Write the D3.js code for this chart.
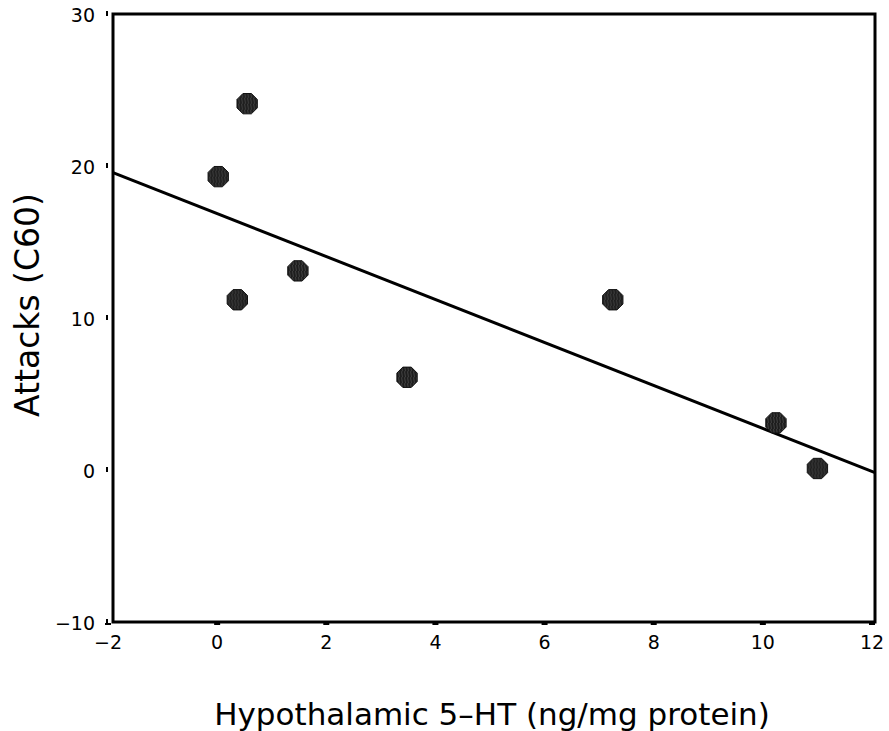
<!DOCTYPE html>
<meta charset="utf-8">
<style>
	body { margin: 0; background: #fff; }
	.tick-label { font: 19px "DejaVu Sans", sans-serif; fill: #000; }
	.axis-title { font: 31px "DejaVu Sans", sans-serif; fill: #000; }
	.frame { fill: none; stroke: #000; stroke-width: 3; }
	.fit { stroke: #000; stroke-width: 3; fill: none; }
</style>
<body>
<script src="https://cdn.jsdelivr.net/npm/d3@7/dist/d3.min.js"></script>
<script>
var width = 889,
    height = 731;

// data
var serotonin = [0.02, 0.55, 0.37, 1.48, 3.48, 7.25, 10.24, 11.0];
var attacks   = [19.3, 24.1, 11.2, 13.1, 6.1, 11.2, 3.1, 0.1];
var fitX = [-2, 12];
var fitY = [19.7, -0.1];
var xTicks = [-2, 0, 2, 4, 6, 8, 10, 12];
var yTicks = [-10, 0, 10, 20, 30];

var x = d3.scaleLinear().domain([-2, 12]).range([108, 872]);
var y = d3.scaleLinear().domain([-10, 30]).range([622, 14]);

var left = x(-2) + 5,
    right = x(12) + 3;

var svg = d3.select("body").append("svg")
    .attr("width", width)
    .attr("height", height);

// hatch pattern for the markers
var pat = svg.append("defs").append("pattern")
    .attr("id", "hatch")
    .attr("patternUnits", "userSpaceOnUse")
    .attr("width", 3).attr("height", 6);
pat.append("rect").attr("width", 3).attr("height", 6).attr("fill", "#1c1c1c");
pat.append("path").attr("d", "M0.5,0 L1.5,6").attr("stroke", "#555").attr("stroke-width", 0.7);

svg.append("rect")
    .attr("class", "frame")
    .attr("x", left).attr("y", y(30))
    .attr("width", right - left)
    .attr("height", y(-10) - y(30));

// tiny tick marks, SPSS style
svg.append("g").selectAll("rect").data(yTicks)
  .enter().append("rect")
    .attr("x", x(-2) - 2).attr("y", function(d) { return y(d) - 3; })
    .attr("width", 2).attr("height", 5).attr("fill", "#000");

svg.append("g").selectAll("rect").data(xTicks)
  .enter().append("rect")
    .attr("x", function(d) { return x(d) - 3; }).attr("y", y(-10) + 1)
    .attr("width", 6).attr("height", 2).attr("fill", "#000");

svg.append("g").selectAll("text").data(yTicks)
  .enter().append("text")
    .attr("class", "tick-label")
    .attr("x", 95)
    .attr("y", function(d) { return y(d) + 8; })
    .attr("text-anchor", "end")
    .text(function(d) { return d < 0 ? "\u2212" + Math.abs(d) : d; });

svg.append("g").selectAll("text").data(xTicks)
  .enter().append("text")
    .attr("class", "tick-label")
    .attr("x", function(d) { return x(d); })
    .attr("y", 649)
    .attr("text-anchor", "middle")
    .text(function(d) { return d < 0 ? "\u2212" + Math.abs(d) : d; });

var yAt = d3.scaleLinear().domain(fitX).range(fitY);
svg.append("path")
    .attr("class", "fit")
    .attr("d", d3.line()([[left, y(yAt(x.invert(left)))], [right, y(yAt(x.invert(right)))]]));

var octagon = d3.lineRadial()
    .angle(function(d) { return d; })
    .radius(11)
    .curve(d3.curveLinearClosed);
var angles = d3.range(8).map(function(i) { return Math.PI / 8 + i * Math.PI / 4; });

svg.append("g").selectAll("path").data(serotonin)
  .enter().append("path")
    .attr("transform", function(d, i) { return "translate(" + x(d) + "," + y(attacks[i]) + ")"; })
    .attr("d", octagon(angles))
    .attr("fill", "url(#hatch)")
    .attr("stroke", "#111")
    .attr("stroke-width", 1);

svg.append("text")
    .attr("class", "axis-title")
    .attr("x", 492).attr("y", 725)
    .attr("text-anchor", "middle")
    .text("Hypothalamic 5\u2013HT (ng/mg protein)");

svg.append("text")
    .attr("class", "axis-title")
    .style("font-size", "33px")
    .attr("transform", "translate(39,305) rotate(-90)")
    .attr("text-anchor", "middle")
    .text("Attacks (C60)");
</script>
</body>
